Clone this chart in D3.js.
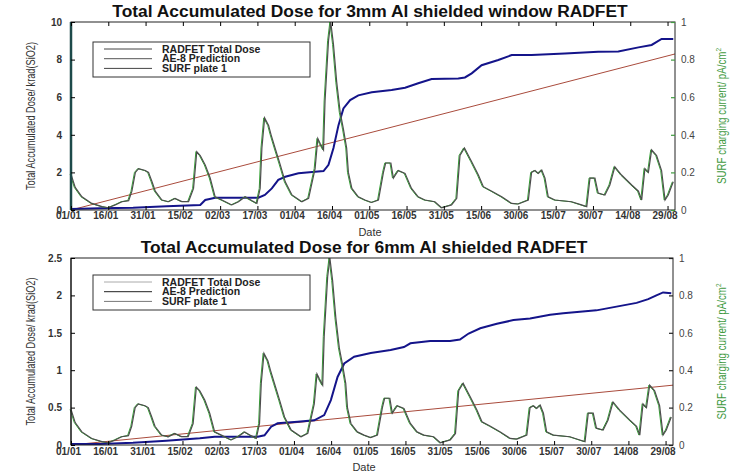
<!DOCTYPE html>
<html>
<head>
<meta charset="utf-8">
<script src="https://cdn.jsdelivr.net/npm/d3@7"></script>
<style>
  body { margin: 0; background: #fff; }
  svg { font-family: "Liberation Sans", Arial, sans-serif; }
</style>
</head>
<body>
<div id="chart"></div>
<script>
// Tick days (day number from 01/01) and their labels
const tickDays = [0, 15, 30, 45, 60, 75, 90, 105, 120, 135, 150, 165, 180, 195, 210, 225, 240];
const tickLabels = ["01/01", "16/01", "31/01", "15/02", "02/03", "17/03", "01/04", "16/04", "01/05",
    "16/05", "31/05", "15/06", "30/06", "15/07", "30/07", "14/08", "29/08"];

// SURF plate 1 charging current (pA/cm2), same for both panels
const surfDays = [0, 1.7, 4.4, 8.4, 12.5, 15.1, 17.8, 20.5, 23.2, 24.5, 25.9, 27.2, 29.9, 31.2, 32.6, 33.9,
    36.6, 39.3, 41.9, 44.6, 47.3, 49.3, 50.6, 52, 54, 56, 58, 60.7, 64.7, 67.4, 70.1, 72.7, 74.8, 76.1,
    76.8, 77.9, 79.5, 80.5, 82.1, 84.2, 86.2, 88.9, 92.9, 95.6, 98.2, 99.3, 100.2, 101.6, 102.2, 103.6,
    104.5, 105.6, 106.9, 108.3, 109.6, 110.9, 111.6, 113, 115.6, 118.3, 121, 123.7, 125.7, 126.6, 128.7,
    129.7, 131.7, 134.4, 137, 139.7, 142.4, 146.4, 149.1, 153.1, 155.2, 156.5, 158.3, 161.2, 163.9, 165.9,
    169.3, 173.3, 177.3, 180, 184, 185.3, 186.7, 188, 189.4, 190.7, 192, 194.7, 201.4, 205.4, 207.5, 208.8,
    210.8, 212.1, 214.8, 216.8, 218.8, 221.5, 225.6, 228.3, 229.6, 230.9, 232.3, 233.6, 235.6, 237.6, 239,
    240.3, 242.3];
const surfValues = [0.19, 0.12, 0.07, 0.035, 0.018, 0.012, 0.027, 0.044, 0.05, 0.1, 0.2, 0.22, 0.21, 0.2, 0.15, 0.1,
    0.053, 0.044, 0.062, 0.045, 0.045, 0.115, 0.31, 0.29, 0.24, 0.17, 0.07, 0.053, 0.027, 0.044, 0.07, 0.05, 0.035, 0.115,
    0.33, 0.49, 0.45, 0.4, 0.33, 0.24, 0.15, 0.08, 0.044, 0.062, 0.22, 0.38, 0.355, 0.32, 0.58, 0.9,
    1.0, 0.88, 0.68, 0.52, 0.43, 0.33, 0.2, 0.115, 0.07, 0.053, 0.04, 0.053, 0.2, 0.25, 0.25,
    0.17, 0.21, 0.195, 0.115, 0.07, 0.053, 0.044, 0.012, 0.027, 0.062, 0.29, 0.33, 0.257, 0.186, 0.124,
    0.1, 0.07, 0.035, 0.032, 0.053, 0.2, 0.21, 0.195, 0.213, 0.17, 0.07, 0.053, 0.044, 0.027, 0.018, 0.17,
    0.17, 0.09, 0.08, 0.133, 0.23, 0.186, 0.133, 0.1, 0.053, 0.22, 0.2, 0.32, 0.29, 0.21, 0.053,
    0.08, 0.15];

// RADFET total dose, 3mm Al shielded window (krad(SiO2))
const radfet3Days = [0, 11.7, 25, 38.5, 52, 54, 58, 75.4, 78, 80.8, 83.4, 86.2, 91.5, 98.2, 101.6, 103.6,
    105.6, 107.6, 109.6, 112.3, 115.6, 121, 129, 134.4, 139.7, 145.1, 155.8, 158.5, 161.2, 165.2, 171.9,
    177.3, 185.3, 198.7, 212.1, 220.2, 228.3, 233.6, 237.6, 242.3];
const radfet3Values = [0.05, 0.09, 0.12, 0.2, 0.27, 0.53, 0.65, 0.65, 0.8, 1.15, 1.6, 1.77, 1.95, 2.04, 2.07, 2.4,
    3.3, 4.5, 5.4, 5.85, 6.1, 6.26, 6.38, 6.5, 6.74, 6.97, 7.0, 7.05, 7.27, 7.7, 7.98,
    8.24, 8.25, 8.33, 8.42, 8.43, 8.65, 8.78, 9.1, 9.1];

// RADFET total dose, 6mm Al shielded (krad(SiO2))
const radfet6Days = [0, 11.7, 25, 38.5, 52, 58, 75.4, 78.1, 80.8, 83.4, 91.5, 98.2, 102.2, 104.9, 107.6, 110.3,
    114.3, 121, 129, 134.4, 137, 145, 153, 157, 160.5, 165.2, 171.9, 178.6, 185.3, 193.4, 198.7, 212.1,
    220.2, 228.3, 233, 236.3, 239, 242.3];
const radfet6Values = [0.013, 0.015, 0.03, 0.058, 0.09, 0.11, 0.11, 0.13, 0.245, 0.29, 0.31, 0.33, 0.4, 0.6, 0.91, 1.09,
    1.18, 1.23, 1.27, 1.31, 1.36, 1.39, 1.39, 1.41, 1.49, 1.56, 1.62, 1.67, 1.69, 1.74, 1.76, 1.8,
    1.85, 1.9, 1.95, 2.0, 2.04, 2.03];

// AE-8 prediction (straight lines)
const ae8Days = [0, 243];
const ae8Values3 = [0.0, 8.3];
const ae8Values6 = [0.0, 0.8];

const leftTicks3 = [0, 2, 4, 6, 8, 10];
const leftTicks6 = [0, 0.5, 1, 1.5, 2, 2.5];
const rightTicks = [0, 0.2, 0.4, 0.6, 0.8, 1];
const legendLabels = ["RADFET Total Dose", "AE-8 Prediction", "SURF plate 1"];

const svg = d3.select("#chart")
    .append("svg")
    .attr("width", 733)
    .attr("height", 473);

function zip(days, vals) {
    return days.map((d, i) => ({ day: d, v: vals[i] }));
}

function drawPanel(p) {
    const x = d3.scaleLinear().domain([0, 243]).range([p.left, p.right]);
    const y = d3.scaleLinear().domain([0, p.yMax]).range([p.bottom, p.top]);
    const y2 = d3.scaleLinear().domain([0, 1]).range([p.bottom, p.top]);
    const g = svg.append("g");

    // Title
    g.append("text")
        .attr("x", p.titleX)
        .attr("y", p.titleY)
        .attr("text-anchor", "middle")
        .style("font-size", "17.4px")
        .style("font-weight", "bold")
        .style("fill", "#111")
        .text(p.title);

    // Lines
    const line = (sx, sy) => d3.line().x(d => sx(d.day)).y(d => sy(d.v));

    g.append("path")
        .datum(zip(ae8Days, p.ae8))
        .attr("fill", "none")
        .attr("stroke", "#a94b3c")
        .attr("stroke-width", 1)
        .attr("d", line(x, y));

    g.append("path")
        .datum(zip(p.radDays, p.radVals))
        .attr("fill", "none")
        .attr("stroke", "#14148a")
        .attr("stroke-width", 2)
        .attr("d", line(x, y));

    // SURF: thin green edge under a grey trace
    const surf = zip(surfDays, surfValues);
    g.append("path")
        .datum(surf)
        .attr("fill", "none")
        .attr("stroke", "#33a333")
        .attr("stroke-width", 1.0)
        .attr("transform", "translate(-0.9,0)")
        .attr("d", line(x, y2));
    g.append("path")
        .datum(surf)
        .attr("fill", "none")
        .attr("stroke", "#4d4d4d")
        .attr("stroke-width", 1.2)
        .attr("d", line(x, y2));

    // Frame
    g.append("rect")
        .attr("x", p.left).attr("y", p.top)
        .attr("width", p.right - p.left).attr("height", p.bottom - p.top)
        .attr("fill", "none").attr("stroke", "#222").attr("stroke-width", 1);
    g.append("line")
        .attr("x1", p.left).attr("x2", p.left)
        .attr("y1", p.top).attr("y2", p.bottom)
        .attr("stroke", p.leftAxisColor).attr("stroke-width", p.leftAxisWidth);

    // X axis
    const xAxis = g.append("g")
        .attr("transform", `translate(0,${p.bottom})`)
        .call(d3.axisBottom(x).tickValues(tickDays)
            .tickFormat((d, i) => tickLabels[i])
            .tickSizeInner(-4).tickSizeOuter(0).tickPadding(p.xPad));
    xAxis.select(".domain").remove();
    xAxis.selectAll("text")
        .attr("dx", "-3")
        .style("font-size", "10px")
        .style("font-weight", "bold")
        .style("fill", "#333");

    if (p.topTicks) {
        const xTop = g.append("g")
            .attr("transform", `translate(0,${p.top})`)
            .call(d3.axisTop(x).tickValues(tickDays).tickFormat("")
                .tickSizeInner(-4).tickSizeOuter(0));
        xTop.select(".domain").remove();
    }

    // Left axis
    const yAxis = g.append("g")
        .attr("transform", `translate(${p.left},0)`)
        .call(d3.axisLeft(y).tickValues(p.leftTicks)
            .tickFormat(d3.format("~g"))
            .tickSizeInner(-4).tickSizeOuter(0).tickPadding(9));
    yAxis.select(".domain").remove();
    yAxis.selectAll("text")
        .style("font-size", "10px")
        .style("font-weight", "bold")
        .style("fill", "#333");

    // Right axis
    const y2Axis = g.append("g")
        .attr("transform", `translate(${p.right},0)`)
        .call(d3.axisRight(y2).tickValues(rightTicks)
            .tickFormat(d3.format("~g"))
            .tickSizeInner(-4).tickSizeOuter(0).tickPadding(6));
    y2Axis.select(".domain").remove();
    y2Axis.selectAll("line").attr("stroke", p.rightTickColor).attr("stroke-width", 1.2);
    y2Axis.selectAll("text")
        .style("font-size", "10px")
        .style("fill", "#444");

    // Axis titles
    g.append("text")
        .attr("transform", `translate(35,${(p.top + p.bottom) / 2}) rotate(-90)`)
        .attr("text-anchor", "middle")
        .attr("textLength", 148)
        .attr("lengthAdjust", "spacingAndGlyphs")
        .style("font-size", "12px")
        .style("fill", "#333")
        .text("Total Accumulated Dose/ krad(SiO2)");

    const rLabel = g.append("text")
        .attr("transform", `translate(726,${(p.top + p.bottom) / 2}) rotate(-90)`)
        .attr("text-anchor", "middle")
        .attr("textLength", 136)
        .attr("lengthAdjust", "spacingAndGlyphs")
        .style("font-size", "12px")
        .style("fill", "#3f9a3f");
    rLabel.append("tspan").text("SURF charging current/ pA/cm");
    rLabel.append("tspan").attr("dy", "-5").style("font-size", "8px").text("2");

    g.append("text")
        .attr("x", p.dateX)
        .attr("y", p.dateY)
        .attr("text-anchor", "middle")
        .style("font-size", "11px")
        .style("fill", "#333")
        .text("Date");

    // Legend
    const lg = g.append("g");
    lg.append("rect")
        .attr("x", 93).attr("y", p.legendTop)
        .attr("width", 217).attr("height", 35)
        .attr("fill", "#fff").attr("stroke", "#333").attr("stroke-width", 1);
    legendLabels.forEach((lab, i) => {
        const ly = p.legendTop + 7 + i * 9.7;
        lg.append("line")
            .attr("x1", 104).attr("x2", 152)
            .attr("y1", ly).attr("y2", ly)
            .attr("stroke", p.legendColors[i]).attr("stroke-width", 1);
        lg.append("text")
            .attr("x", 162).attr("y", ly + 3.5)
            .style("font-size", "10.5px")
            .style("font-weight", "bold")
            .style("fill", "#222")
            .text(lab);
    });
}

drawPanel({
    title: "Total Accumulated Dose for 3mm Al shielded window RADFET",
    titleX: 370, titleY: 17,
    left: 71, right: 675, top: 22, bottom: 210,
    yMax: 10, leftTicks: leftTicks3,
    radDays: radfet3Days, radVals: radfet3Values, ae8: ae8Values3,
    leftAxisColor: "#1d4a4a", leftAxisWidth: 2.5,
    rightTickColor: "#3f9a3f", topTicks: true, xPad: 1.5,
    dateX: 370, dateY: 236,
    legendTop: 42, legendColors: ["#444", "#555", "#444"]
});

drawPanel({
    title: "Total Accumulated Dose for 6mm Al shielded RADFET",
    titleX: 364, titleY: 253,
    left: 71, right: 673, top: 258, bottom: 445,
    yMax: 2.5, leftTicks: leftTicks6,
    radDays: radfet6Days, radVals: radfet6Values, ae8: ae8Values6,
    leftAxisColor: "#222", leftAxisWidth: 1.2,
    rightTickColor: "#222", topTicks: false, xPad: 3,
    dateX: 364, dateY: 471,
    legendTop: 275, legendColors: ["#aaa", "#222", "#777"]
});
</script>
</body>
</html>
